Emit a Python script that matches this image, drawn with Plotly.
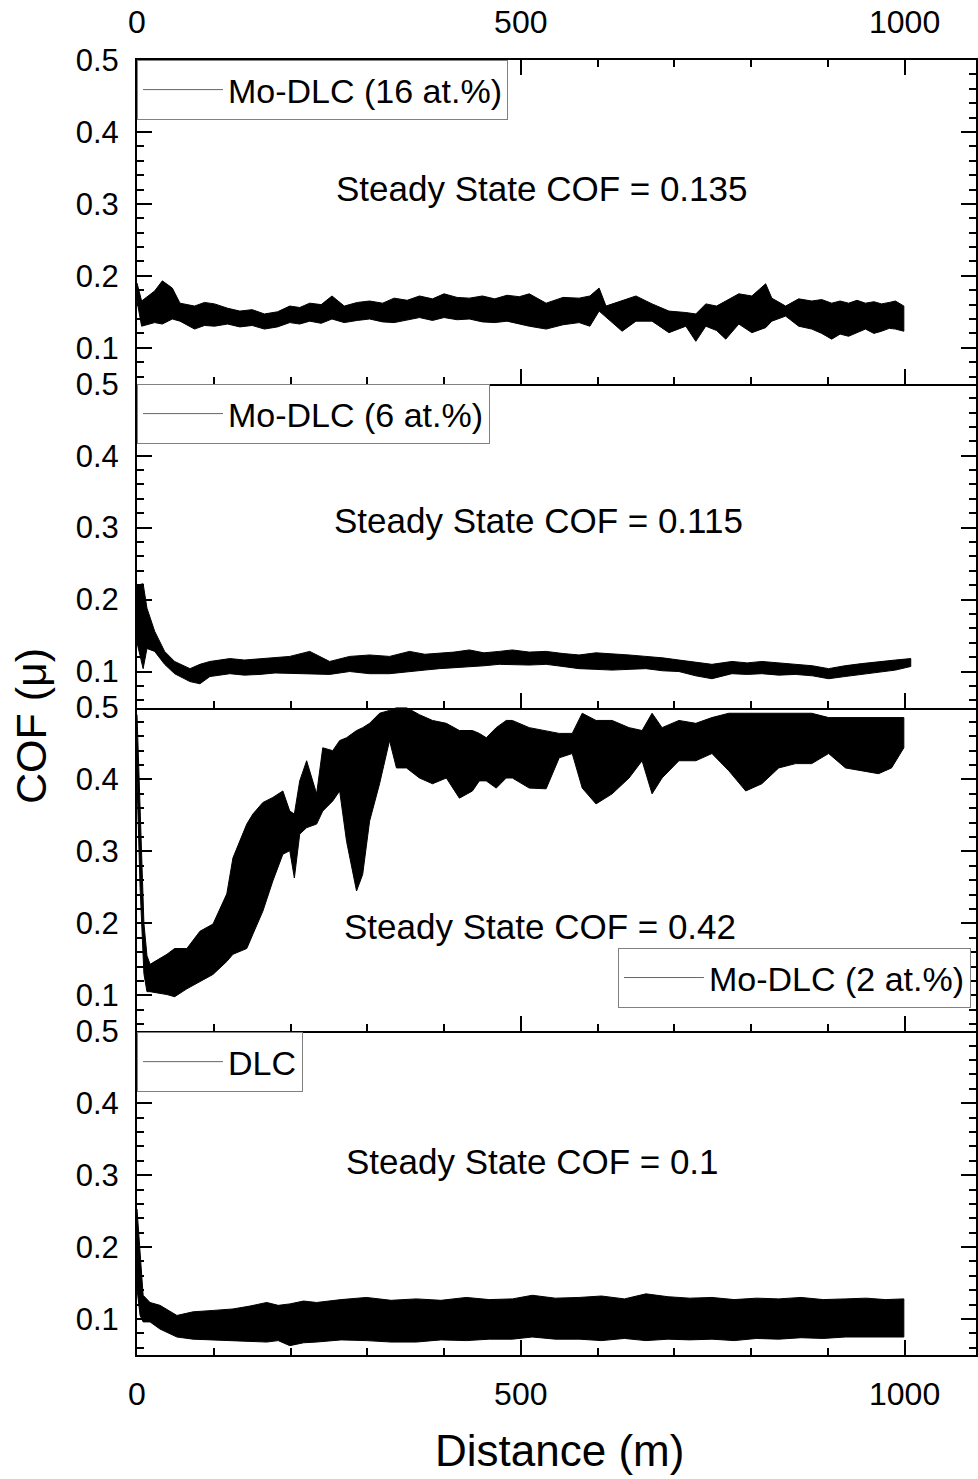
import plotly.graph_objects as go
from plotly.subplots import make_subplots

# ---------------- data (envelopes of the noisy COF traces) ----
dist_16 = [0, 6, 23, 33, 46, 56, 75, 88, 101, 118, 134, 150, 166, 183, 199, 212, 225, 240,
           254, 270, 287, 303, 320, 335, 352, 368, 385, 400, 417, 433, 450, 466, 482, 498,
           511, 533, 555, 576, 590, 602, 611, 632, 650, 671, 693, 715, 728, 741, 755, 767,
           784, 801, 819, 827, 845, 862, 879, 892, 905, 916, 927, 938, 949, 960, 970, 980,
           988, 999]
upper_16 = [0.190, 0.165, 0.179, 0.193, 0.183, 0.162, 0.158, 0.163, 0.161, 0.155, 0.151,
            0.153, 0.147, 0.150, 0.158, 0.156, 0.162, 0.160, 0.172, 0.158, 0.163, 0.165,
            0.162, 0.169, 0.166, 0.172, 0.168, 0.175, 0.170, 0.169, 0.172, 0.168, 0.173,
            0.171, 0.175, 0.162, 0.170, 0.169, 0.172, 0.183, 0.158, 0.165, 0.172, 0.161,
            0.151, 0.149, 0.147, 0.161, 0.158, 0.165, 0.175, 0.172, 0.189, 0.169, 0.158,
            0.168, 0.165, 0.167, 0.162, 0.165, 0.162, 0.166, 0.162, 0.164, 0.161, 0.163,
            0.165, 0.158]
lower_16 = [0.165, 0.130, 0.135, 0.133, 0.140, 0.137, 0.126, 0.131, 0.130, 0.133, 0.129,
            0.131, 0.126, 0.129, 0.135, 0.133, 0.137, 0.134, 0.140, 0.135, 0.138, 0.140,
            0.136, 0.135, 0.139, 0.142, 0.138, 0.142, 0.139, 0.140, 0.136, 0.135, 0.137,
            0.133, 0.130, 0.126, 0.132, 0.135, 0.130, 0.151, 0.142, 0.123, 0.137, 0.137,
            0.121, 0.130, 0.109, 0.130, 0.124, 0.112, 0.133, 0.121, 0.128, 0.137, 0.144,
            0.130, 0.126, 0.120, 0.112, 0.119, 0.116, 0.121, 0.126, 0.120, 0.123, 0.127,
            0.126, 0.123]

dist_6 = [0, 8, 13, 23, 36, 49, 69, 82, 95, 121, 140, 160, 180, 199, 225, 251, 277, 303,
          329, 355, 375, 394, 413, 433, 452, 472, 489, 511, 533, 555, 576, 598, 619, 641,
          663, 685, 706, 728, 749, 775, 795, 814, 836, 858, 880, 901, 922, 944, 966, 988,
          1008]
upper_6 = [0.220, 0.222, 0.188, 0.156, 0.128, 0.114, 0.104, 0.110, 0.114, 0.118, 0.116,
           0.118, 0.120, 0.121, 0.128, 0.114, 0.121, 0.123, 0.121, 0.128, 0.124, 0.125,
           0.127, 0.130, 0.126, 0.128, 0.130, 0.127, 0.128, 0.125, 0.123, 0.126, 0.125,
           0.123, 0.121, 0.119, 0.116, 0.113, 0.110, 0.114, 0.112, 0.114, 0.112, 0.110,
           0.108, 0.104, 0.108, 0.111, 0.113, 0.116, 0.118]
lower_6 = [0.140, 0.104, 0.132, 0.128, 0.110, 0.097, 0.086, 0.083, 0.093, 0.097, 0.095,
           0.096, 0.098, 0.097, 0.097, 0.096, 0.100, 0.097, 0.097, 0.100, 0.102, 0.104,
           0.105, 0.107, 0.108, 0.110, 0.110, 0.109, 0.110, 0.107, 0.104, 0.103, 0.102,
           0.103, 0.104, 0.101, 0.100, 0.094, 0.090, 0.097, 0.096, 0.097, 0.095, 0.096,
           0.094, 0.090, 0.093, 0.097, 0.099, 0.102, 0.107]

dist_2 = [0, 4, 9, 13, 17, 39, 49, 65, 82, 99, 117, 125, 143, 151, 164, 177, 190, 199,
          205, 212, 221, 234, 242, 255, 264, 273, 286, 294, 303, 316, 329, 338, 351, 368,
          385, 403, 420, 437, 446, 455, 468, 481, 489, 511, 533, 550, 567, 580, 598, 619,
          641, 658, 671, 684, 706, 728, 749, 771, 793, 814, 836, 858, 879, 901, 923, 944,
          966, 983, 999]
upper_2 = [0.490, 0.350, 0.200, 0.155, 0.143, 0.157, 0.165, 0.165, 0.189, 0.199, 0.241,
           0.291, 0.338, 0.352, 0.368, 0.375, 0.384, 0.356, 0.352, 0.398, 0.426, 0.380,
           0.444, 0.440, 0.454, 0.458, 0.468, 0.472, 0.478, 0.492, 0.496, 0.500, 0.500,
           0.490, 0.482, 0.478, 0.468, 0.468, 0.464, 0.458, 0.472, 0.482, 0.482, 0.472,
           0.468, 0.464, 0.464, 0.492, 0.482, 0.482, 0.472, 0.468, 0.492, 0.472, 0.482,
           0.478, 0.486, 0.492, 0.492, 0.492, 0.492, 0.492, 0.492, 0.486, 0.486, 0.486,
           0.486, 0.486, 0.486]
lower_2 = [0.400, 0.250, 0.130, 0.105, 0.105, 0.101, 0.098, 0.109, 0.119, 0.129, 0.147,
           0.157, 0.165, 0.185, 0.217, 0.259, 0.296, 0.301, 0.263, 0.324, 0.333, 0.338,
           0.356, 0.370, 0.384, 0.314, 0.245, 0.268, 0.342, 0.394, 0.454, 0.416, 0.416,
           0.402, 0.394, 0.402, 0.374, 0.384, 0.398, 0.398, 0.388, 0.402, 0.402, 0.388,
           0.387, 0.430, 0.436, 0.388, 0.366, 0.380, 0.402, 0.426, 0.380, 0.402, 0.426,
           0.426, 0.436, 0.412, 0.384, 0.394, 0.416, 0.422, 0.422, 0.436, 0.416, 0.412,
           0.408, 0.416, 0.444]

dist_dlc = [0, 4, 8, 17, 30, 52, 73, 100, 125, 147, 169, 184, 199, 217, 234, 266, 299,
            331, 364, 396, 429, 459, 489, 515, 545, 576, 605, 635, 663, 692, 720, 749,
            778, 807, 836, 865, 894, 923, 950, 975, 999]
upper_dlc = [0.253, 0.189, 0.133, 0.123, 0.119, 0.105, 0.110, 0.112, 0.114, 0.118, 0.123,
             0.119, 0.121, 0.125, 0.123, 0.127, 0.130, 0.126, 0.128, 0.126, 0.130, 0.127,
             0.128, 0.133, 0.129, 0.130, 0.132, 0.128, 0.135, 0.131, 0.129, 0.130, 0.127,
             0.129, 0.128, 0.130, 0.127, 0.128, 0.129, 0.127, 0.128]
lower_dlc = [0.142, 0.105, 0.096, 0.096, 0.086, 0.075, 0.072, 0.071, 0.070, 0.069, 0.068,
             0.070, 0.063, 0.067, 0.068, 0.071, 0.070, 0.068, 0.068, 0.071, 0.070, 0.072,
             0.072, 0.075, 0.072, 0.072, 0.070, 0.073, 0.070, 0.072, 0.071, 0.072, 0.070,
             0.073, 0.072, 0.074, 0.073, 0.075, 0.074, 0.075, 0.075]

panels = [
    ("Mo-DLC (16 at.%)", dist_16, upper_16, lower_16, "Steady State COF = 0.135"),
    ("Mo-DLC (6 at.%)", dist_6, upper_6, lower_6, "Steady State COF = 0.115"),
    ("Mo-DLC (2 at.%)", dist_2, upper_2, lower_2, "Steady State COF = 0.42"),
    ("DLC", dist_dlc, upper_dlc, lower_dlc, "Steady State COF = 0.1"),
]
label_pos = [(527, 0.321), (523, 0.310), (525, 0.195), (515, 0.319)]
y_ticks = [0.1, 0.2, 0.3, 0.4, 0.5]
x_ticks = [0, 500, 1000]

FONT = "Liberation Sans, Arial, Helvetica, sans-serif"

fig = make_subplots(rows=4, cols=1, shared_xaxes=True, vertical_spacing=0)

legend_names = ["legend", "legend2", "legend3", "legend4"]
for i, (name, d, up, lo, txt) in enumerate(panels):
    r = i + 1
    fig.add_trace(go.Scatter(
        x=list(d) + list(d)[::-1], y=list(up) + list(lo)[::-1],
        mode="lines", fill="toself", fillcolor="black",
        line=dict(color="black", width=1), showlegend=False, hoverinfo="skip"),
        row=r, col=1)
    fig.add_trace(go.Scatter(
        x=[None], y=[None], mode="lines", name=name,
        line=dict(color="#666666", width=1), showlegend=True,
        legend=legend_names[i]), row=r, col=1)
    fig.add_annotation(x=label_pos[i][0], y=label_pos[i][1], text=txt,
                       xref=f"x{r if r > 1 else ''}", yref=f"y{r if r > 1 else ''}",
                       xanchor="center", yanchor="middle",
                       showarrow=False, font=dict(size=35, color="black", family=FONT))

axis_common = dict(showline=True, linewidth=2, linecolor="black", showgrid=False,
                   zeroline=False, ticks="inside", tickwidth=2, tickcolor="black",
                   ticklen=15)

for r in range(1, 5):
    fig.update_yaxes(range=[0.05, 0.5], tickvals=y_ticks, ticktext=[f"{v:.1f}" for v in y_ticks],
                     mirror="ticks", tickfont=dict(size=31, color="black", family=FONT),
                     ticklabelstandoff=10,
                     minor=dict(dtick=0.02, tick0=0, ticks="inside", ticklen=7,
                                tickwidth=2, tickcolor="black"),
                     row=r, col=1, **axis_common)
    fig.update_xaxes(range=[0, 1093], tickvals=x_ticks,
                     tickfont=dict(size=32, color="black", family=FONT),
                     minor=dict(dtick=100, tick0=0, ticks="inside", ticklen=7,
                                tickwidth=2, tickcolor="black"),
                     row=r, col=1, **axis_common)

fig.update_xaxes(side="top", showticklabels=True, mirror="ticks", ticklabelstandoff=12,
                 row=1, col=1)
fig.update_xaxes(showticklabels=True, ticklabelstandoff=10, row=4, col=1)

leg_common = dict(bordercolor="#808080", borderwidth=1, bgcolor="white",
                  font=dict(size=34, color="black", family=FONT), itemwidth=80)
fig.update_layout(
    legend=dict(x=0, y=1, xanchor="left", yanchor="top", **leg_common),
    legend2=dict(x=0, y=0.7498, xanchor="left", yanchor="top", **leg_common),
    legend3=dict(x=0.994, y=0.268, xanchor="right", yanchor="bottom", **leg_common),
    legend4=dict(x=0, y=0.2494, xanchor="left", yanchor="top", **leg_common),
)

fig.add_annotation(text="COF (μ)", xref="paper", yref="paper", x=-0.127, y=0.486,
                   xanchor="center", yanchor="middle",
                   textangle=-90, showarrow=False,
                   font=dict(size=43, color="black", family=FONT))
fig.add_annotation(text="Distance (m)", xref="paper", yref="paper", x=0.504, y=-0.0734,
                   xanchor="center", yanchor="middle",
                   showarrow=False, font=dict(size=44, color="black", family=FONT))

fig.update_layout(width=978, height=1479, margin=dict(l=137, r=0, t=60, b=124),
                  plot_bgcolor="white", paper_bgcolor="white",
                  font=dict(family=FONT, color="black"))

fig.write_html("out.html")
